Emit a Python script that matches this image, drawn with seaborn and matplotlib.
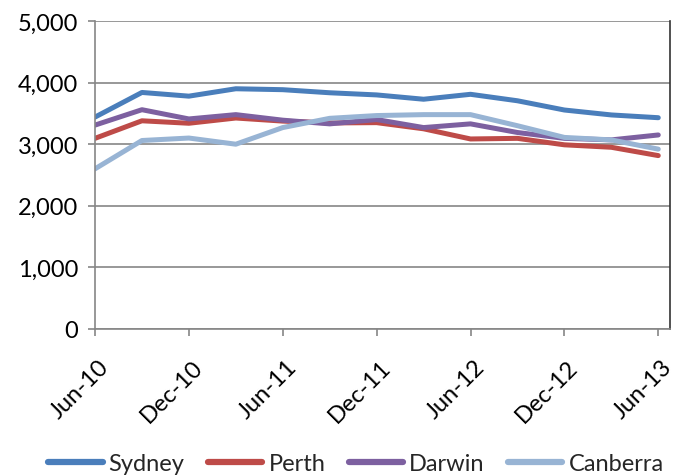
import matplotlib
matplotlib.use("Agg")
import matplotlib.pyplot as plt
import matplotlib.transforms as mtransforms
import seaborn as sns
import pandas as pd
from matplotlib.ticker import FuncFormatter, MultipleLocator

quarters = ["Jun-10", "Sep-10", "Dec-10", "Mar-11", "Jun-11", "Sep-11", "Dec-11",
            "Mar-12", "Jun-12", "Sep-12", "Dec-12", "Mar-13", "Jun-13"]
sydney = [3440, 3840, 3780, 3900, 3885, 3835, 3800, 3730, 3810, 3705, 3555, 3475, 3430]
perth = [3095, 3380, 3340, 3425, 3375, 3345, 3350, 3250, 3085, 3095, 2990, 2950, 2815]
darwin = [3310, 3560, 3410, 3480, 3390, 3330, 3400, 3270, 3330, 3190, 3095, 3070, 3150]
canberra = [2600, 3060, 3100, 3000, 3270, 3420, 3465, 3480, 3480, 3300, 3110, 3070, 2920]
series_names = ["Sydney", "Perth", "Darwin", "Canberra"]
tick_labels = ["Jun-10", "Dec-10", "Jun-11", "Dec-11", "Jun-12", "Dec-12", "Jun-13"]

colors = ["#4A7EBB", "#BE4B48", "#7D60A0", "#98B4D4"]

rows = []
for name, vals in zip(series_names, [sydney, perth, darwin, canberra]):
    for i, v in enumerate(vals):
        rows.append({"idx": i, "quarter": quarters[i], "value": v, "city": name})
df = pd.DataFrame(rows)

sns.set_theme(style="white")
plt.rcParams["font.family"] = ["Lato", "DejaVu Sans"]

fig = plt.figure(figsize=(6.76, 4.77), dpi=100)
ax = fig.add_axes([95/676, 1 - 330/477, (670-95)/676, (330-22)/477])

sns.lineplot(data=df, x="idx", y="value", hue="city", hue_order=series_names,
             palette=colors, linewidth=3.6, ax=ax, legend=True, sort=False)
for ln in ax.get_lines():
    ln.set_solid_capstyle("round")
    ln.set_solid_joinstyle("round")

ax.set_ylim(0, 5000)
ax.set_xlim(0, 12.25)
ax.yaxis.set_major_locator(MultipleLocator(1000))
ax.yaxis.set_major_formatter(FuncFormatter(lambda v, p: f"{int(v):,}"))
ax.grid(axis="y", color="#868686", linewidth=1.2)
ax.set_axisbelow(True)
tick_pos = [quarters.index(t) for t in tick_labels]
ax.set_xticks(tick_pos)
ax.set_xticklabels(tick_labels, rotation=45, ha="right", rotation_mode="anchor")
ax.set_xlabel("")
ax.set_ylabel("")
ax.tick_params(axis="both", labelsize=17, colors="black", length=5, width=1.2,
               direction="out", left=True, bottom=True)
ax.tick_params(axis="y", pad=7, color="#868686")
ax.tick_params(axis="x", pad=4, color="#868686")
offset = mtransforms.ScaledTranslation(3/100, -14/100, fig.dpi_scale_trans)
for lbl in ax.get_xticklabels():
    lbl.set_transform(lbl.get_transform() + offset)
for s in ["left", "bottom"]:
    ax.spines[s].set_color("#868686")
    ax.spines[s].set_linewidth(1.2)
ax.spines["top"].set_visible(False)
ax.spines["right"].set_color("#333333")
ax.spines["right"].set_linewidth(1.2)

handles, labels = ax.get_legend_handles_labels()
leg = fig.legend(handles, labels, loc="center", bbox_to_anchor=(356/676, 1 - 465/477),
                 ncol=4, frameon=False, fontsize=17, handlelength=2.3,
                 handletextpad=0.25, columnspacing=1.0)
if ax.get_legend():
    ax.get_legend().remove()
for line in leg.get_lines():
    line.set_linewidth(4.5)
    line.set_solid_capstyle("round")

fig.savefig("out.png", dpi=100)
